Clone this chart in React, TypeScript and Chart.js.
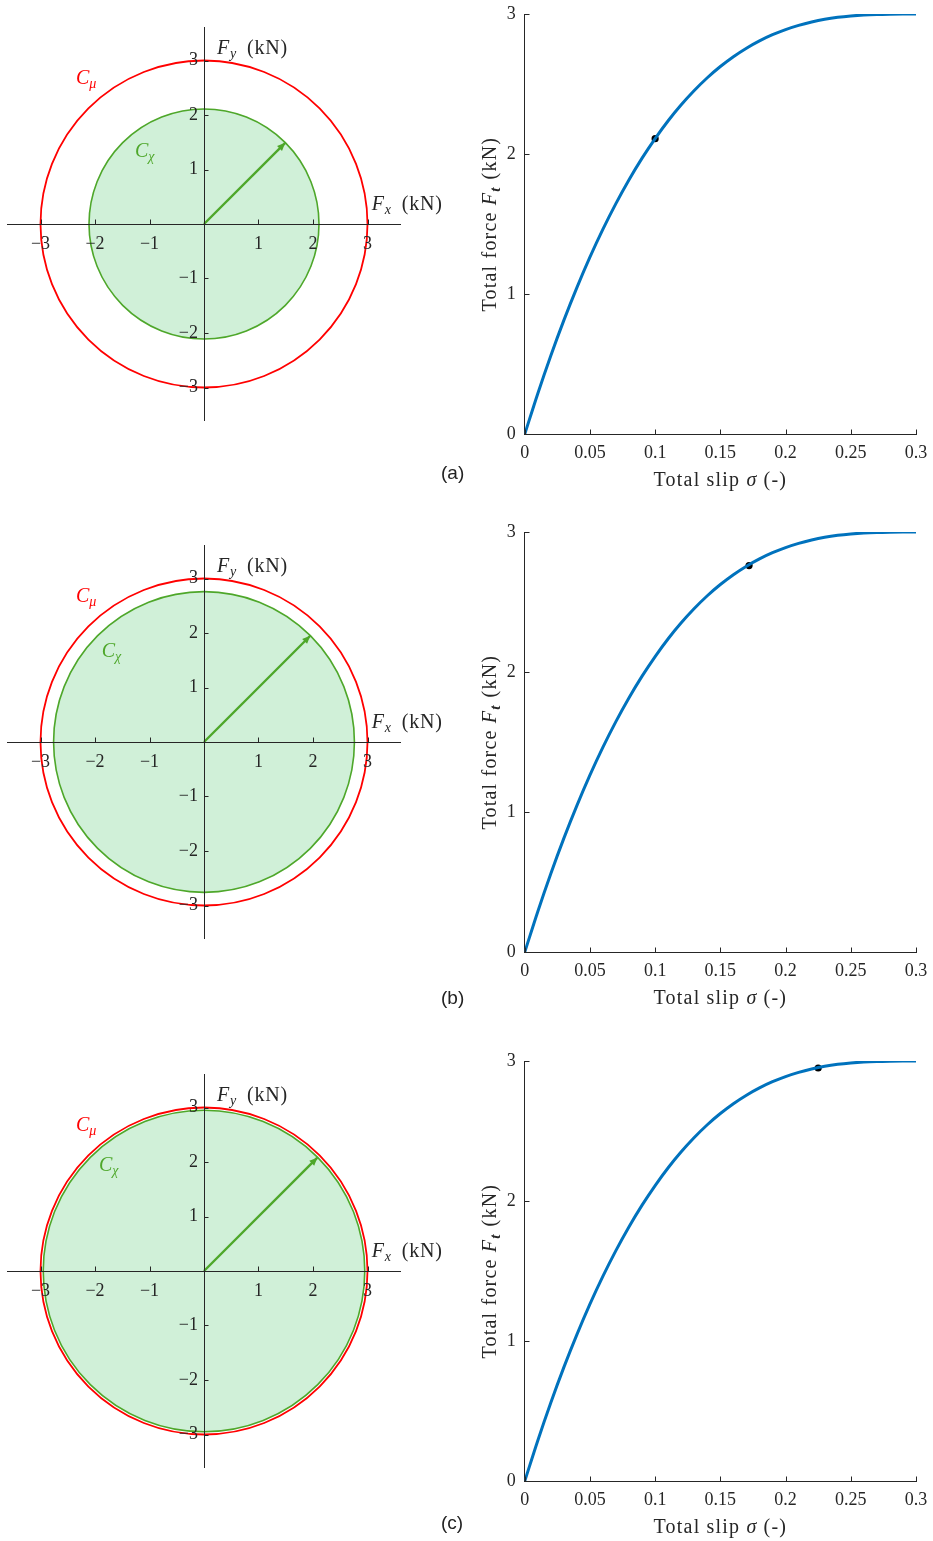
import React, { useEffect, useRef } from "react";
import { Chart, registerables } from "chart.js";

Chart.register(...registerables);

// ---------------- data ----------------
const slip = [0, 0.01, 0.02, 0.03, 0.04, 0.05, 0.06, 0.07, 0.08, 0.09, 0.1, 0.11, 0.12, 0.13, 0.14, 0.15, 0.16, 0.17, 0.18, 0.19, 0.2, 0.21, 0.22, 0.23, 0.24, 0.25, 0.26, 0.27, 0.28, 0.29, 0.3];
const totalForce = [0, 0.29, 0.561, 0.813, 1.047, 1.264, 1.464, 1.648, 1.817, 1.971, 2.111, 2.238, 2.352, 2.454, 2.545, 2.625, 2.695, 2.756, 2.808, 2.852, 2.889, 2.919, 2.943, 2.962, 2.976, 2.986, 2.993, 2.997, 2.999, 3.0, 3.0];
const panelLabels = ["(a)", "(b)", "(c)"];
const operatingSlip = [0.1, 0.172, 0.225];
const operatingForce = [2.11, 2.76, 2.95];
const frictionLimit = 3; // radius of C_mu (kN)
const usedForceRadius = [2.11, 2.76, 2.95]; // radius of C_chi (kN)
const arrowTip = [1.49, 1.95, 2.08]; // Fx = Fy of the force arrow tip (kN)
const forcePlaneTicks = [-3, -2, -1, 0, 1, 2, 3];
const slipTicks = [0, 0.05, 0.1, 0.15, 0.2, 0.25, 0.3];
const totalForceTicks = [0, 1, 2, 3];

// ---------------- styling ----------------
const AX = "#262626";
const RED = "#ff0000";
const GREEN = "#4ea72a";
const GREEN_FILL = "rgb(208,240,216)";
const BLUE = "#0072bd";
const SERIF = "'Liberation Serif', 'Times New Roman', serif";
const ROW_TOP = [0, 518, 1046.5];
const LABEL_TOP = [463, 988, 1513];
const CHI_LABEL = [
  { dx: -69, dy: -67.3 },
  { dx: -102.3, dy: -85.3 },
  { dx: -105, dy: -99.7 },
];

type Part = { t: string; f: string; dy?: number; gap?: number };

function partsWidth(ctx: CanvasRenderingContext2D, parts: Part[]) {
  let w = 0;
  for (const p of parts) {
    ctx.font = p.f;
    w += ctx.measureText(p.t).width + (p.gap || 0);
  }
  return w;
}

function drawParts(ctx: CanvasRenderingContext2D, parts: Part[], x: number, y: number, color: string, spacing = "0px", center = false) {
  ctx.save();
  (ctx as any).letterSpacing = spacing;
  ctx.fillStyle = color;
  ctx.textBaseline = "alphabetic";
  ctx.textAlign = "left";
  let cx = x;
  if (center) cx = x - partsWidth(ctx, parts) / 2;
  for (const p of parts) {
    ctx.font = p.f;
    ctx.fillText(p.t, cx, y + (p.dy || 0));
    cx += ctx.measureText(p.t).width + (p.gap || 0);
  }
  ctx.restore();
}

const inwardTicks = (centered: boolean) => ({
  id: "inwardTicks",
  afterDraw(chart: any) {
    const { ctx, scales, chartArea } = chart;
    const xs = scales.x;
    const ys = scales.y;
    const x0 = centered ? xs.getPixelForValue(0) : chartArea.left;
    const y0 = centered ? ys.getPixelForValue(0) : chartArea.bottom;
    ctx.save();
    ctx.strokeStyle = AX;
    ctx.lineWidth = 1;
    ctx.beginPath();
    xs.ticks.forEach((t: any) => {
      if (centered && t.value === 0) return;
      const px = Math.round(xs.getPixelForValue(t.value)) + 0.5;
      ctx.moveTo(px, Math.round(y0));
      ctx.lineTo(px, Math.round(y0) - 4.5);
    });
    ys.ticks.forEach((t: any) => {
      if (centered && t.value === 0) return;
      const py = Math.round(ys.getPixelForValue(t.value)) + 0.5;
      ctx.moveTo(Math.round(x0), py);
      ctx.lineTo(Math.round(x0) + 4.5, py);
    });
    ctx.stroke();
    ctx.restore();
  },
});

const zeroPad = (s: any) => {
  s.paddingTop = 0;
  s.paddingBottom = 0;
  s.paddingLeft = 0;
  s.paddingRight = 0;
};

const fmtSigned = (v: number) => (v === 0 ? "" : v < 0 ? "\u2212" + Math.abs(v) : String(v));

function ForcePlane({ idx }: { idx: number }) {
  const ref = useRef<HTMLCanvasElement>(null);
  useEffect(() => {
    const canvas = ref.current!;
    const circles = {
      id: "circles",
      beforeDatasetsDraw(chart: any) {
        const { ctx, scales } = chart;
        const xs = scales.x;
        const ys = scales.y;
        const cx = xs.getPixelForValue(0);
        const cy = ys.getPixelForValue(0);
        const rx = (r: number) => xs.getPixelForValue(r) - cx;
        const ry = (r: number) => cy - ys.getPixelForValue(r);
        ctx.save();
        ctx.beginPath();
        ctx.ellipse(cx, cy, rx(usedForceRadius[idx]), ry(usedForceRadius[idx]), 0, 0, Math.PI * 2);
        ctx.fillStyle = GREEN_FILL;
        ctx.fill();
        ctx.lineWidth = 1.6;
        ctx.strokeStyle = GREEN;
        ctx.stroke();
        ctx.beginPath();
        ctx.ellipse(cx, cy, rx(frictionLimit), ry(frictionLimit), 0, 0, Math.PI * 2);
        ctx.lineWidth = 1.8;
        ctx.strokeStyle = RED;
        ctx.stroke();
        ctx.restore();
      },
      afterDatasetsDraw(chart: any) {
        const pts = chart.getDatasetMeta(0).data;
        if (!pts || pts.length < 2) return;
        const p0 = pts[0];
        const p1 = pts[1];
        const a = Math.atan2(p1.y - p0.y, p1.x - p0.x);
        const L = 8;
        const W = 3.5;
        const { ctx } = chart;
        ctx.save();
        ctx.fillStyle = GREEN;
        ctx.beginPath();
        ctx.moveTo(p1.x, p1.y);
        ctx.lineTo(p1.x - L * Math.cos(a) + W * Math.sin(a), p1.y - L * Math.sin(a) - W * Math.cos(a));
        ctx.lineTo(p1.x - L * Math.cos(a) - W * Math.sin(a), p1.y - L * Math.sin(a) + W * Math.cos(a));
        ctx.closePath();
        ctx.fill();
        ctx.restore();
      },
      afterDraw(chart: any) {
        const { ctx, scales } = chart;
        const ox = scales.x.getPixelForValue(0);
        const oy = scales.y.getPixelForValue(0);
        const IT20 = `italic 20px ${SERIF}`;
        const IT14 = `italic 14px ${SERIF}`;
        const R20 = `20px ${SERIF}`;
        drawParts(ctx, [{ t: "F", f: IT20 }, { t: "y", f: IT14, dy: 4, gap: 10 }, { t: "(kN)", f: R20 }], ox + 13, oy - 170.5, AX, "0.8px");
        drawParts(ctx, [{ t: "F", f: IT20 }, { t: "x", f: IT14, dy: 4, gap: 10 }, { t: "(kN)", f: R20 }], ox + 167.7, oy - 14.5, AX, "0.8px");
        drawParts(ctx, [{ t: "C", f: IT20 }, { t: "\u03bc", f: IT14, dy: 4 }], ox - 128, oy - 140.5, RED);
        const c = CHI_LABEL[idx];
        drawParts(ctx, [{ t: "C", f: IT20 }, { t: "\u03c7", f: IT14, dy: 4 }], ox + c.dx, oy + c.dy, GREEN);
      },
    };
    const axisCommon = {
      type: "linear",
      min: -3.6,
      max: 3.6,
      grid: { display: false, drawTicks: false },
      border: { display: true, color: AX, width: 1, z: 1 },
      afterBuildTicks: (s: any) => {
        s.ticks = forcePlaneTicks.map((v) => ({ value: v }));
      },
      afterFit: zeroPad,
    };
    const tickCommon = {
      autoSkip: false,
      maxRotation: 0,
      includeBounds: false,
      color: AX,
      z: 2,
      font: { family: SERIF, size: 18 },
    };
    const chart = new Chart(canvas, {
      type: "scatter",
      data: {
        datasets: [
          {
            data: [
              { x: 0, y: 0 },
              { x: arrowTip[idx], y: arrowTip[idx] },
            ],
            showLine: true,
            borderColor: GREEN,
            borderWidth: 2.4,
            pointRadius: 0,
            clip: false,
          } as any,
        ],
      },
      options: {
        animation: false,
        responsive: false,
        events: [],
        layout: { autoPadding: false, padding: { left: 7.8, right: 59.8, top: 27.8, bottom: 73.8 } },
        plugins: { legend: { display: false }, tooltip: { enabled: false } },
        scales: {
          x: {
            ...axisCommon,
            position: { y: 0 },
            ticks: { ...tickCommon, padding: 9, callback: (v: any) => fmtSigned(Number(v)) },
          } as any,
          y: {
            ...axisCommon,
            position: { x: 0 },
            ticks: { ...tickCommon, padding: 7, callback: (v: any) => (Number(v) === 0 ? "" : fmtSigned(Number(v)) + "\u2004") },
          } as any,
        },
      },
      plugins: [circles, inwardTicks(true)],
    });
    return () => chart.destroy();
  }, [idx]);
  return (
    <canvas
      ref={ref}
      width={460}
      height={494}
      style={{ position: "absolute", left: 0, top: ROW_TOP[idx], width: 460, height: 494, display: "block" }}
    />
  );
}

function SlipCurve({ idx }: { idx: number }) {
  const ref = useRef<HTMLCanvasElement>(null);
  useEffect(() => {
    const canvas = ref.current!;
    const titles = {
      id: "titles",
      afterDraw(chart: any) {
        const { ctx, chartArea } = chart;
        const R20 = `20px ${SERIF}`;
        const IT20 = `italic 20px ${SERIF}`;
        const BIT14 = `italic bold 15px ${SERIF}`;
        const midX = (chartArea.left + chartArea.right) / 2;
        drawParts(
          ctx,
          [
            { t: "Total slip ", f: R20 },
            { t: "\u03c3", f: IT20, gap: 6 },
            { t: "(-)", f: R20 },
          ],
          midX,
          chartArea.bottom + 51.5,
          AX,
          "1.2px",
          true
        );
        const midY = (chartArea.top + chartArea.bottom) / 2;
        ctx.save();
        ctx.translate(chartArea.left - 28.5, midY);
        ctx.rotate(-Math.PI / 2);
        drawParts(
          ctx,
          [
            { t: "Total force ", f: R20 },
            { t: "F", f: IT20 },
            { t: "t", f: BIT14, dy: 4, gap: 7 },
            { t: "(kN)", f: R20 },
          ],
          0,
          0,
          AX,
          "1.2px",
          true
        );
        ctx.restore();
      },
    };
    const tickFont = { family: SERIF, size: 18 };
    const chart = new Chart(canvas, {
      type: "scatter",
      data: {
        datasets: [
          {
            data: slip.map((s, i) => ({ x: s, y: totalForce[i] })),
            showLine: true,
            borderColor: BLUE,
            borderWidth: 3,
            pointRadius: 0,
            cubicInterpolationMode: "monotone",
          } as any,
          {
            data: [{ x: operatingSlip[idx], y: operatingForce[idx] }],
            pointRadius: 3.6,
            backgroundColor: "#000",
            borderColor: "#000",
            borderWidth: 0,
          } as any,
        ],
      },
      options: {
        animation: false,
        responsive: false,
        events: [],
        layout: { autoPadding: false, padding: { left: 0, right: 17, top: 14, bottom: 0 } },
        plugins: { legend: { display: false }, tooltip: { enabled: false } },
        scales: {
          x: {
            type: "linear",
            position: "bottom",
            min: 0,
            max: 0.3,
            grid: { display: false, drawTicks: false },
            border: { display: true, color: AX, width: 1 },
            ticks: { autoSkip: false, maxRotation: 0, includeBounds: false, color: AX, font: tickFont, padding: 8, callback: (v: any) => String(v) },
            afterBuildTicks: (s: any) => {
              s.ticks = slipTicks.map((v) => ({ value: v }));
            },
            afterFit: (s: any) => {
              s.height = 59.7;
              zeroPad(s);
            },
          } as any,
          y: {
            type: "linear",
            position: "left",
            min: 0,
            max: 3,
            grid: { display: false, drawTicks: false },
            border: { display: true, color: AX, width: 1 },
            ticks: { autoSkip: false, includeBounds: false, color: AX, font: tickFont, padding: 9, callback: (v: any) => String(v) },
            afterBuildTicks: (s: any) => {
              s.ticks = totalForceTicks.map((v) => ({ value: v }));
            },
            afterFit: (s: any) => {
              s.width = 64.7;
              zeroPad(s);
            },
          } as any,
        },
      },
      plugins: [titles, inwardTicks(false)],
    });
    return () => chart.destroy();
  }, [idx]);
  return (
    <canvas
      ref={ref}
      width={473}
      height={494}
      style={{ position: "absolute", left: 460, top: ROW_TOP[idx], width: 473, height: 494, display: "block" }}
    />
  );
}

export default function App() {
  return (
    <div style={{ position: "absolute", left: 0, top: 0, width: 933, height: 1541, background: "#fff", overflow: "hidden" }}>
      {[0, 1, 2].map((i) => (
        <React.Fragment key={i}>
          <ForcePlane idx={i} />
          <SlipCurve idx={i} />
          <div
            style={{
              position: "absolute",
              left: 441,
              top: LABEL_TOP[i],
              fontFamily: "'Liberation Sans', Arial, sans-serif",
              fontSize: 19,
              lineHeight: "19px",
              color: "#222",
              zIndex: 2,
            }}
          >
            {panelLabels[i]}
          </div>
        </React.Fragment>
      ))}
    </div>
  );
}
